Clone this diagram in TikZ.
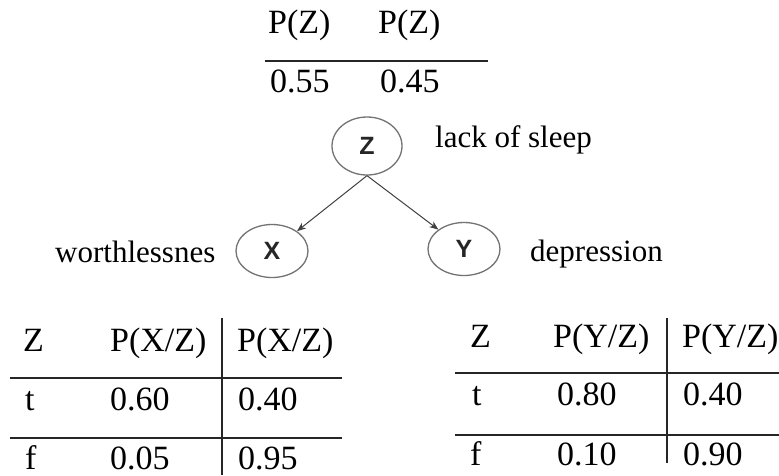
\documentclass[tikz,border=0pt]{standalone}
\usepackage{fontspec}
\setmainfont{Liberation Serif}
\newfontfamily\nodefont{Liberation Sans}
\usetikzlibrary{shapes.geometric,arrows.meta}
\begin{document}
\begin{tikzpicture}[x=1pt,y=-1pt,
  tab/.style={anchor=base west,inner sep=0pt,font=\fontsize{34}{40}\selectfont},
  lbl/.style={anchor=base west,inner sep=0pt,font=\fontsize{31}{36}\selectfont},
  bn/.style={ellipse,draw=black!55,line width=1.3pt,inner sep=0pt,
    font=\nodefont\bfseries\fontsize{25}{27}\selectfont,text=black!85},
  rule/.style={line width=1.3pt,draw=black!85},
  arr/.style={line width=1pt,draw=black!75,-{Stealth[length=9pt,width=7pt]}}]
\useasboundingbox (0,0) rectangle (779,475);
% top table
\node[tab] (pz1) at (268,33) {P(Z)};
\node[tab] (pz2) at (378,33) {P(Z)};
\coordinate (tl) at (265,61);
\coordinate (tr) at (488,61);
\draw[rule] (tl) -- (tr);
\node[tab] (v1) at (270,92) {0.55};
\node[tab] (v2) at (380,92) {0.45};
% network
\node[bn,minimum width=70pt,minimum height=58pt] (Z) at (367,146) {Z};
\node[bn,minimum width=72pt,minimum height=53pt] (X) at (272,251) {X};
\node[bn,minimum width=72pt,minimum height=53pt] (Y) at (464,249) {Y};
\draw[arr] (Z.south) -- (X);
\draw[arr] (Z.south) -- (Y);
\node[lbl] (ls) at (435,147) {lack of sleep};
\node[lbl] (wl) at (55,262) {worthlessnes};
\node[lbl] (dp) at (530,261) {depression};
% left table
\node[tab] (lz) at (23,351) {Z};
\node[tab] (lh1) at (110,351) {P(X/Z)};
\node[tab] (lh2) at (237,351) {P(X/Z)};
\coordinate (lv1) at (222,318);
\coordinate (lv2) at (222,475);
\draw[rule] (lv1) -- (lv2);
\coordinate (la1) at (10,378);
\coordinate (la2) at (342,378);
\coordinate (lb1) at (10,438);
\coordinate (lb2) at (342,438);
\draw[rule] (la1) -- (la2);
\draw[rule] (lb1) -- (lb2);
\node[tab] (lt) at (25,410) {t};
\node[tab] (lt1) at (110,410) {0.60};
\node[tab] (lt2) at (238,410) {0.40};
\node[tab] (lf) at (25,469) {f};
\node[tab] (lf1) at (110,469) {0.05};
\node[tab] (lf2) at (238,469) {0.95};
% right table
\node[tab] (rz) at (470,347) {Z};
\node[tab] (rh1) at (553,347) {P(Y/Z)};
\node[tab] (rh2) at (682,347) {P(Y/Z)};
\coordinate (rv1) at (667,318);
\coordinate (rv2) at (667,463);
\draw[rule] (rv1) -- (rv2);
\coordinate (ra1) at (455,373);
\coordinate (ra2) at (779,373);
\coordinate (rb1) at (455,435);
\coordinate (rb2) at (779,435);
\draw[rule] (ra1) -- (ra2);
\draw[rule] (rb1) -- (rb2);
\node[tab] (rt) at (472,405) {t};
\node[tab] (rt1) at (557,405) {0.80};
\node[tab] (rt2) at (683,405) {0.40};
\node[tab] (rf) at (470,465) {f};
\node[tab] (rf1) at (557,465) {0.10};
\node[tab] (rf2) at (683,465) {0.90};
\end{tikzpicture}
\end{document}
